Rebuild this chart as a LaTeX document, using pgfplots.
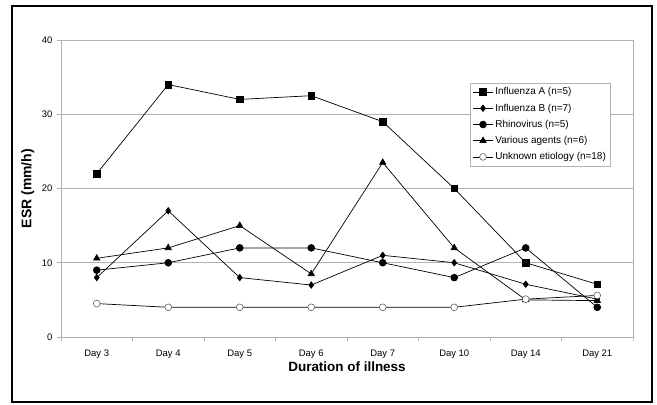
\documentclass[border=0pt]{standalone}
\usepackage{pgfplots}
\pgfplotsset{compat=1.18}
\usepackage{fontspec}
\setmainfont{Liberation Sans}
\begin{document}
\begin{tikzpicture}[x=1bp,y=1bp]
\path[use as bounding box] (0,0) rectangle (657,404);
\begin{axis}[
  at={(61bp,67bp)}, anchor=south west,
  scale only axis, width=572bp, height=297bp,
  xmin=-0.5, xmax=7.5, ymin=0, ymax=40,
  xtick={0,...,7},
  xticklabels={Day 3,Day 4,Day 5,Day 6,Day 7,Day 10,Day 14,Day 21},
  minor xtick={-0.5,0.5,...,7.5},
  major x tick style={draw=none},
  minor tick length=4bp,
  ytick={0,10,20,30,40},
  major tick length=4bp,
  tick align=outside,
  xtick pos=bottom, ytick pos=left,
  ymajorgrids, grid style={gray!60, line width=0.6bp},
  axis line style={gray!60, line width=0.6bp},
  every tick/.style={gray!60, line width=0.6bp},
  tick label style={font=\fontsize{9.5}{11}\selectfont, text=black},
  xticklabel style={yshift=-5bp},
  yticklabel style={xshift=-1bp},
  /pgf/number format/assume math mode=true,
  xlabel={\bfseries Duration of illness},
  ylabel={\bfseries ESR (mm/h)},
  xlabel style={font=\fontsize{13.5}{15}\selectfont, at={(axis description cs:0.5,-0.101)}, anchor=center},
  ylabel style={font=\fontsize{14}{16}\selectfont, at={(axis description cs:-0.058,0.5)}, anchor=center},
  legend style={at={(0.715,0.855)}, anchor=north west, draw=gray!60,
    font=\fontsize{10}{11}\selectfont, row sep=3.5bp, inner sep=2.5bp,
    cells={anchor=west}},
  legend image code/.code={\draw[#1] (0bp,0bp) -- (20bp,0bp); \draw[#1,only marks] plot coordinates {(10bp,0bp)};},
  every axis plot/.append style={black, line width=0.7bp},
]
\addplot[mark=square*, mark size=3.3bp] coordinates {(0,22) (1,34) (2,32) (3,32.5) (4,29) (5,20) (6,10) (7,7.1)};
\addlegendentry{Influenza A (n=5)}
\addplot[mark=diamond*, mark size=3.2bp] coordinates {(0,8) (1,17) (2,8) (3,7) (4,11) (5,10) (6,7.1) (7,5.1)};
\addlegendentry{Influenza B (n=7)}
\addplot[mark=*, mark size=3.4bp] coordinates {(0,9) (1,10) (2,12) (3,12) (4,10) (5,8) (6,12) (7,4)};
\addlegendentry{Rhinovirus (n=5)}
\addplot[mark=triangle*, mark size=3.6bp] coordinates {(0,10.6) (1,12) (2,15) (3,8.5) (4,23.5) (5,12) (6,5) (7,4.9)};
\addlegendentry{Various agents (n=6)}
\addplot[mark=*, mark size=3.4bp, mark options={fill=white, draw=black!70, line width=0.5bp}] coordinates {(0,4.5) (1,4) (2,4) (3,4) (4,4) (5,4) (6,5.1) (7,5.6)};
\addlegendentry{Unknown etiology (n=18)}
\end{axis}
\draw[line width=2.5bp] (12,2) rectangle (652,398);
\end{tikzpicture}
\end{document}
